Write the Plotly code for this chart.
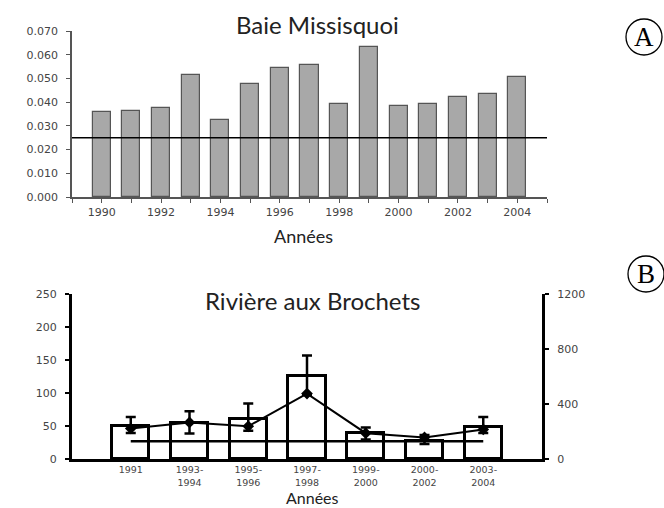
import plotly.graph_objects as go

# --- Baie Missisquoi: annual mean phosphorus (mg/L) ---
years_a = list(range(1990, 2005))
phos_a = [0.0357, 0.0363, 0.0377, 0.0513, 0.0325, 0.0478, 0.0545, 0.0555,
          0.0391, 0.0634, 0.0384, 0.0394, 0.0422, 0.0434, 0.0507]
criterion_a = 0.025
yticks_a = [0.0, 0.01, 0.02, 0.03, 0.04, 0.05, 0.06, 0.07]

# --- Rivière aux Brochets ---
periods_b = ["1991", "1993-1994", "1995-1996", "1997-1998", "1999-2000", "2000-2002", "2003-2004"]
period_labels_b = ["1991", "1993-<br>1994", "1995-<br>1996", "1997-<br>1998",
                   "1999-<br>2000", "2000-<br>2002", "2003-<br>2004"]
bars_b = [50, 54, 60, 126, 39, 28, 49]            # left axis
criterion_b = 27                                   # left axis
line_b = [222, 266, 238, 476, 188, 157, 215]       # right axis
err_plus_b = [84, 81, 165, 277, 42, 17, 91]
err_minus_b = [32, 80, 33, 10, 46, 48, 25]

W, H = 664, 508
def px(x):
    return x / W
def py(y):
    return 1 - y / H

tick_font = dict(family="DejaVu Sans", size=11, color="#444444")
cat_font = dict(family="DejaVu Sans", size=9.5, color="#444444")
title_font = dict(family="Lato", size=24, color="#222222")
label_font = dict(family="Lato", size=18, color="#222222")

fig = go.Figure()

fig.add_trace(go.Bar(
    x=years_a, y=phos_a, width=0.61,
    marker=dict(color="#a8a8a8", line=dict(color="#555555", width=1.2)),
    xaxis="x", yaxis="y", showlegend=False,
))

fig.add_trace(go.Bar(
    x=periods_b, y=bars_b, width=0.63,
    marker=dict(color="white", line=dict(color="black", width=3)),
    xaxis="x2", yaxis="y2", showlegend=False,
))

fig.add_trace(go.Scatter(
    x=[periods_b[0], periods_b[-1]], y=[criterion_b, criterion_b],
    mode="lines", line=dict(color="black", width=2.5),
    xaxis="x2", yaxis="y2", showlegend=False,
))

fig.add_trace(go.Scatter(
    x=periods_b, y=line_b, mode="lines+markers",
    line=dict(color="black", width=2),
    marker=dict(symbol="diamond", size=9, color="black"),
    error_y=dict(type="data", symmetric=False, array=err_plus_b, arrayminus=err_minus_b,
                 color="black", thickness=2.5, width=5),
    xaxis="x2", yaxis="y3", showlegend=False,
))

fig.update_layout(
    template="none",
    width=W, height=H,
    margin=dict(l=0, r=0, t=0, b=0, pad=0),
    paper_bgcolor="white", plot_bgcolor="white",
    bargap=0,
    xaxis=dict(
        domain=[px(72), px(547)], range=[1989, 2005], automargin=False,
        tickmode="array", tickvals=list(range(1990, 2005, 2)),
        ticks="outside", ticklen=4, tickcolor="#555555", tickwidth=1.2,
        minor=dict(dtick=1, tick0=1989, ticks="outside", ticklen=4, tickcolor="#555555", tickwidth=1.2),
        showline=True, linecolor="#555555", linewidth=1.5,
        showgrid=False, zeroline=False, tickfont=tick_font, anchor="y",
    ),
    yaxis=dict(
        domain=[py(197), py(31)], range=[0, 0.07], automargin=False,
        tickmode="array", tickvals=yticks_a, tickformat=".3f",
        ticks="outside", ticklen=4, tickcolor="#555555", tickwidth=1.2,
        ticklabelstandoff=6,
        showline=True, linecolor="#555555", linewidth=1.5,
        showgrid=False, zeroline=False, tickfont=tick_font, anchor="x",
    ),
    xaxis2=dict(
        domain=[px(72), px(542)], range=[-1, 7], automargin=False,
        type="category", tickmode="array", tickvals=periods_b, ticktext=period_labels_b,
        ticks="", showline=True, linecolor="black", linewidth=3,
        showgrid=False, zeroline=False, tickfont=cat_font, anchor="y2",
    ),
    yaxis2=dict(
        domain=[py(459), py(294)], range=[0, 250], dtick=50, automargin=False,
        ticks="outside", ticklen=4, tickcolor="black", tickwidth=2,
        ticklabelstandoff=6,
        showline=True, linecolor="black", linewidth=3,
        showgrid=False, zeroline=False, tickfont=tick_font, anchor="x2",
    ),
    yaxis3=dict(
        overlaying="y2", side="right", range=[0, 1200], automargin=False,
        tickmode="array", tickvals=[0, 400, 800, 1200],
        ticks="outside", ticklen=4, tickcolor="black", tickwidth=2,
        ticklabelstandoff=6,
        showline=True, linecolor="black", linewidth=3,
        showgrid=False, zeroline=False, tickfont=tick_font, anchor="x2",
    ),
    shapes=[
        dict(type="line", xref="x domain", yref="y", x0=0, x1=1,
             y0=criterion_a, y1=criterion_a, line=dict(color="black", width=1.5)),
        dict(type="circle", xref="paper", yref="paper",
             x0=px(626), x1=px(662), y0=py(55), y1=py(19), line=dict(color="black", width=1.3)),
        dict(type="circle", xref="paper", yref="paper",
             x0=px(628), x1=px(664), y0=py(292), y1=py(256), line=dict(color="black", width=1.3)),
    ],
    annotations=[
        dict(text="Baie Missisquoi", x=px(317), y=py(24), xref="paper", yref="paper",
             showarrow=False, font=title_font, xanchor="center", yanchor="middle"),
        dict(text="Années", x=px(303), y=py(236), xref="paper", yref="paper",
             showarrow=False, font=label_font, xanchor="center", yanchor="middle"),
        dict(text="Rivière aux Brochets", x=px(312), y=py(300), xref="paper", yref="paper",
             showarrow=False, font=title_font, xanchor="center", yanchor="middle"),
        dict(text="Années", x=px(312), y=0, xref="paper", yref="paper",
             showarrow=False, font=dict(family="Lato", size=16, color="#222222"),
             borderpad=0, xanchor="center", yanchor="bottom"),
        dict(text="A", x=px(644), y=py(37), xref="paper", yref="paper",
             showarrow=False, font=dict(family="Liberation Serif", size=27, color="black"),
             xanchor="center", yanchor="middle"),
        dict(text="B", x=px(646), y=py(274), xref="paper", yref="paper",
             showarrow=False, font=dict(family="Liberation Serif", size=27, color="black"),
             xanchor="center", yanchor="middle"),
    ],
)

fig.write_html("out.html")
